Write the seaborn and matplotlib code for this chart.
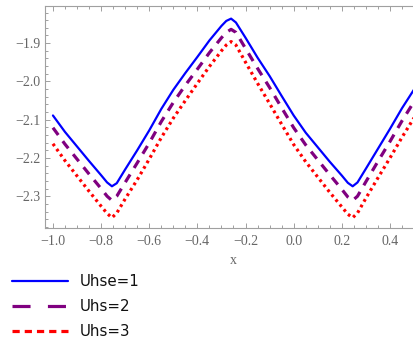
import matplotlib
matplotlib.use("Agg")
import matplotlib.pyplot as plt
from matplotlib.lines import Line2D
from matplotlib.ticker import MultipleLocator, FixedLocator, FixedFormatter
import pandas as pd
import seaborn as sns

# ---- data ----
x_vals = [-1.0, -0.95, -0.9, -0.85, -0.8, -0.775, -0.755, -0.735, -0.7, -0.65,
          -0.6, -0.55, -0.5, -0.45, -0.4, -0.35, -0.3, -0.28, -0.26, -0.24,
          -0.2, -0.15, -0.1, -0.05, 0.0, 0.05, 0.1, 0.15, 0.2, 0.225,
          0.245, 0.265, 0.3, 0.35, 0.4, 0.45, 0.5]
uhse1 = [-2.089, -2.132, -2.170, -2.208, -2.245, -2.264, -2.274, -2.266, -2.230, -2.180,
         -2.128, -2.072, -2.022, -1.978, -1.936, -1.893, -1.855, -1.842, -1.836, -1.846,
         -1.886, -1.938, -1.986, -2.038, -2.089, -2.134, -2.172, -2.210, -2.246, -2.265,
         -2.274, -2.264, -2.228, -2.176, -2.124, -2.070, -2.021]
uhs2 = [-2.121, -2.164, -2.203, -2.242, -2.280, -2.300, -2.311, -2.300, -2.264, -2.213,
        -2.161, -2.105, -2.055, -2.010, -1.968, -1.925, -1.886, -1.872, -1.864, -1.872,
        -1.914, -1.966, -2.016, -2.069, -2.121, -2.166, -2.205, -2.244, -2.282, -2.302,
        -2.311, -2.300, -2.262, -2.209, -2.157, -2.103, -2.053]
uhs3 = [-2.163, -2.207, -2.247, -2.287, -2.326, -2.345, -2.356, -2.344, -2.307, -2.257,
        -2.203, -2.147, -2.096, -2.050, -2.005, -1.961, -1.920, -1.905, -1.896, -1.905,
        -1.950, -2.005, -2.058, -2.112, -2.165, -2.210, -2.250, -2.290, -2.328, -2.347,
        -2.356, -2.344, -2.305, -2.252, -2.200, -2.146, -2.095]
series_labels = ["Uhse=1", "Uhs=2", "Uhs=3"]
x_ticks = [-1.0, -0.8, -0.6, -0.4, -0.2, 0.0, 0.2, 0.4]
y_ticks = [-2.3, -2.2, -2.1, -2.0, -1.9]
x_label = "x"

# ---- style ----
sns.set_theme(style="ticks")
plt.rcParams['font.family'] = ['Liberation Serif', 'DejaVu Serif']
plt.rcParams['lines.scale_dashes'] = False

W, H = 414, 347
fig = plt.figure(figsize=(W / 100, H / 100), dpi=100)
fig.patch.set_facecolor("white")
ax = fig.add_axes([45 / W, 1 - 228 / H, (422 - 45) / W, (228 - 6) / H])
ax.set_facecolor("white")

colors = ["#0000ff", "#800080", "#ff0000"]
styles = [dict(linewidth=1.6, linestyle="-"),
          dict(linewidth=2.3, linestyle=(0, (6.5, 5.5)), dash_capstyle="butt"),
          dict(linewidth=2.3, linestyle=(0, (2.0, 2.6)), dash_capstyle="butt")]

df = pd.DataFrame({"x": x_vals, series_labels[0]: uhse1,
                   series_labels[1]: uhs2, series_labels[2]: uhs3})
for lab, col, st in zip(series_labels, colors, styles):
    sns.lineplot(data=df, x="x", y=lab, ax=ax, color=col, sort=False,
                 estimator=None, legend=False, **st)

ax.set_xlim(-1.033, 0.533)
ax.set_ylim(-2.383, -1.803)

fmt = lambda v: f"{v:.1f}".replace("-", "\u2212")
ax.xaxis.set_major_locator(FixedLocator(x_ticks))
ax.xaxis.set_major_formatter(FixedFormatter([fmt(v) for v in x_ticks]))
ax.yaxis.set_major_locator(FixedLocator(y_ticks))
ax.yaxis.set_major_formatter(FixedFormatter([fmt(v) for v in y_ticks]))
ax.xaxis.set_minor_locator(MultipleLocator(0.05))
ax.yaxis.set_minor_locator(MultipleLocator(0.02))

frame_col = "#a0a0a0"
for s in ["left", "bottom", "top"]:
    ax.spines[s].set_color(frame_col)
    ax.spines[s].set_linewidth(0.8)
ax.spines["right"].set_visible(False)
ax.tick_params(which="both", direction="in", colors=frame_col, top=True, right=False,
               labelcolor="#666666", labelsize=10, width=0.7)
ax.tick_params(which="major", length=3.5)
ax.tick_params(which="minor", length=2.0)
ax.tick_params(axis="x", pad=5)
ax.tick_params(axis="y", pad=3)
ax.set_xlabel(x_label, color="#666666", fontsize=10, labelpad=4)
ax.set_ylabel("")

handles = [Line2D([], [], color=colors[0], linewidth=1.6),
           Line2D([], [], color=colors[1], linewidth=2.3, linestyle=(0, (13, 12.5)),
                  dash_capstyle="butt"),
           Line2D([], [], color=colors[2], linewidth=2.3, linestyle=(0, (5.2, 3.6)),
                  dash_capstyle="butt")]
leg = fig.legend(handles, series_labels, loc="upper left",
                 bbox_to_anchor=(12 / W, 1 - 274 / H), frameon=False,
                 borderpad=0, borderaxespad=0, handlelength=3.7, handletextpad=0.8,
                 labelspacing=0.68,
                 prop={"family": "DejaVu Sans", "size": 10.8})
for t in leg.get_texts():
    t.set_color("#111111")

fig.savefig("out.png", dpi=100)
